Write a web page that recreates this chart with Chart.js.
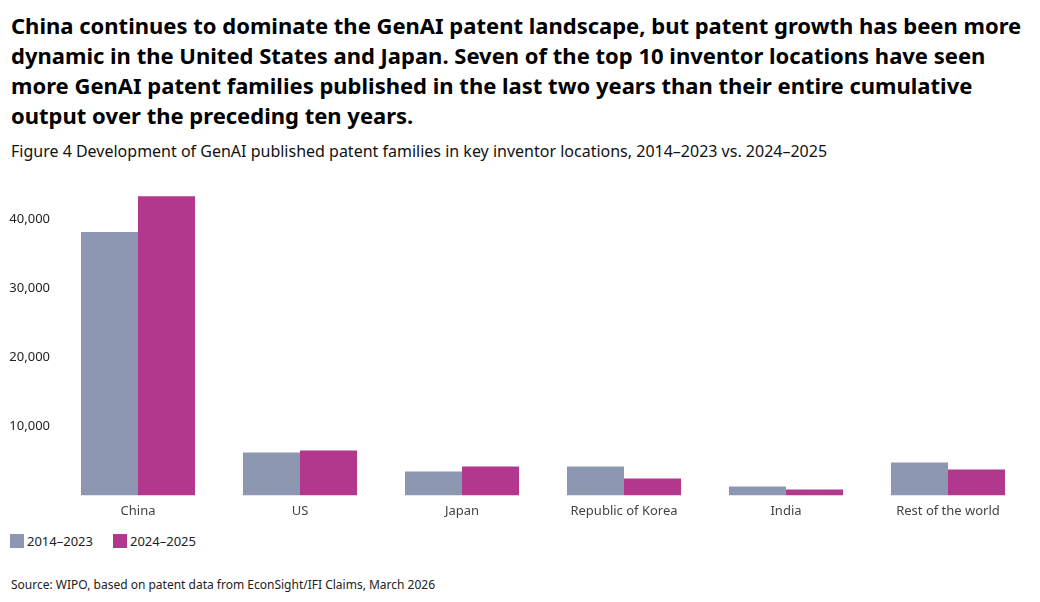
<!DOCTYPE html>
<html>
<head>
<meta charset="utf-8">
<script src="https://cdn.jsdelivr.net/npm/chart.js@4.4.1/dist/chart.umd.min.js"></script>
<style>
  body { margin: 0; background: #fff; font-family: "Noto Sans", sans-serif; }
  #page { position: relative; width: 1040px; height: 602px; overflow: hidden; }
  #title { position: absolute; left: 11px; top: 10px; width: 1025px; margin: 0;
           font-size: 22px; line-height: 30px; font-weight: 700; color: #000; }
  #subtitle { position: absolute; left: 11px; top: 140px; margin: 0; font-size: 16px; color: #111; }
  #chartBox { position: absolute; left: 0; top: 170px; width: 1040px; height: 349px; }
  #legend { position: absolute; left: 10px; top: 532px; display: flex; font-size: 13px; color: #222; }
  #legend .item { display: flex; align-items: center; margin-right: 20px; line-height: 18px; }
  #legend .box { width: 14px; height: 14px; margin-right: 3px; }
  #source { position: absolute; left: 11px; top: 576px; margin: 0; font-size: 12px; color: #222; }
</style>
</head>
<body>
<div id="page">
  <h1 id="title">China continues to dominate the GenAI patent landscape, but patent growth has been more dynamic in the United States and Japan. Seven of the top 10 inventor locations have seen more GenAI patent families published in the last two years than their entire cumulative output over the preceding ten years.</h1>
  <p id="subtitle">Figure 4 Development of GenAI published patent families in key inventor locations, 2014–2023 vs. 2024–2025</p>
  <div id="chartBox"><canvas id="patentChart"></canvas></div>
  <div id="legend"></div>
  <p id="source">Source: WIPO, based on patent data from EconSight/IFI Claims, March 2026</p>
</div>
<script>
// 数据
const locations = ['China', 'US', 'Japan', 'Republic of Korea', 'India', 'Rest of the world'];
const period1 = [38150, 6200, 3450, 4200, 1300, 4750];   // 2014–2023
const period2 = [43350, 6500, 4200, 2450, 850, 3750];    // 2024–2025
const yTicks = [10000, 20000, 30000, 40000];

// 图例放在 HTML 里，方便控制间距
const buildLegend = (chart) => {
    const el = document.getElementById('legend');
    el.innerHTML = chart.data.datasets.map(d =>
        `<div class="item"><span class="box" style="background:${d.backgroundColor}"></span>${d.label}</div>`
    ).join('');
};

const initPatentChart = () => {
    const chart = new Chart(document.getElementById('patentChart'), {
        type: 'bar',
        data: {
            labels: locations,
            datasets: [{
                label: '2014–2023',
                data: period1,
                backgroundColor: '#8e97b1'
            },{
                label: '2024–2025',
                data: period2,
                backgroundColor: '#b1388c'
            }]
        },
        options: {
            responsive: true,
            maintainAspectRatio: false,
            animation: false,
            datasets: { bar: { barPercentage: 1, categoryPercentage: 0.704 } },
            layout: { padding: { top: 12, right: 11, left: 0 } },
            plugins: {
                tooltip: { enabled: false },
                legend: { display: false }
            },
            scales: {
                x: {
                    grid: { display: false },
                    border: { display: false },
                    ticks: { color: '#444', font: { family: 'Noto Sans', size: 13 }, padding: 0 }
                },
                y: {
                    min: 0, max: 45000,
                    grid: { display: false, drawTicks: false },
                    border: { display: false },
                    afterFit: (scale) => { scale.width = 57; },
                    afterBuildTicks: (scale) => { scale.ticks = yTicks.map(v => ({ value: v })); },
                    ticks: {
                        color: '#222',
                        padding: 7,
                        font: { family: 'Noto Sans', size: 13 },
                        callback: (v) => v.toLocaleString('en-US')
                    }
                }
            }
        }
    });
    buildLegend(chart);
};

initPatentChart();
</script>
</body>
</html>
